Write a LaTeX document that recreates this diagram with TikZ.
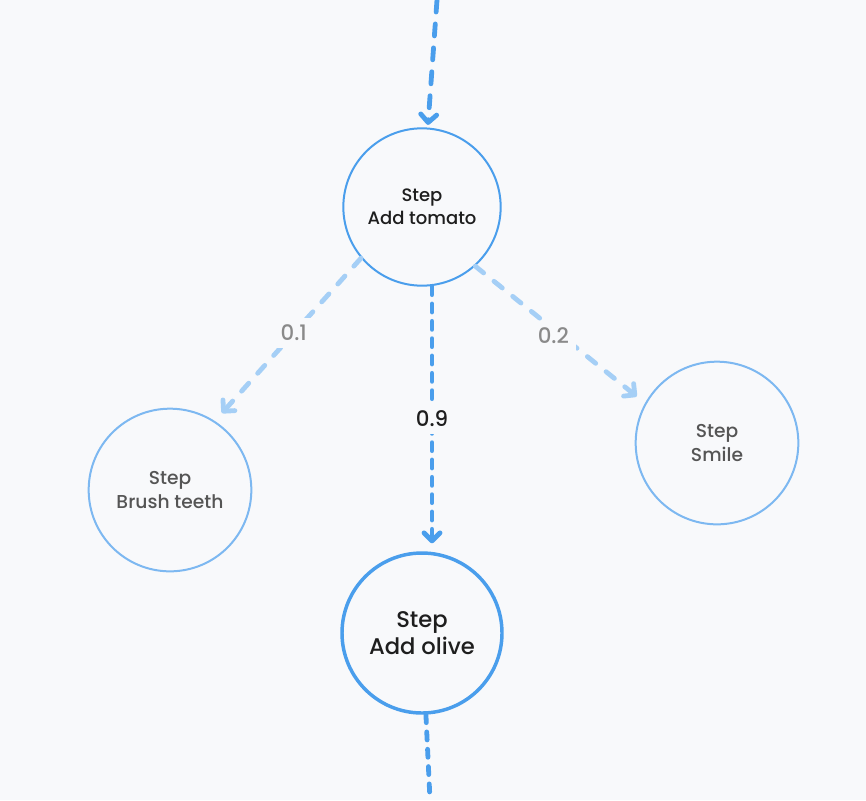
\documentclass[tikz,border=0pt]{standalone}
\usepackage{fontspec}
\setmainfont{Poppins}[UprightFont=* Medium]
\usepackage{tikz}
\usetikzlibrary{arrows.meta,positioning}
\usepackage{xcolor}

\definecolor{bgcol}{HTML}{F8F9FB}
\definecolor{stepblue}{HTML}{4A9EEC}
\definecolor{paleblue}{HTML}{A5CFF6}
\definecolor{ringblue}{HTML}{7DB8F1}
\definecolor{inkdark}{HTML}{1E1E1E}
\definecolor{inkgray}{HTML}{555555}
\definecolor{labgray}{HTML}{8A8A8A}

\begin{document}
\begin{tikzpicture}[x=0.75pt, y=-0.75pt,
	stepnode/.style={draw=stepblue, circle, line width=1.5pt, minimum size=118pt,
		align=center, text=inkdark, font=\fontsize{13.5}{17}\selectfont},
	sidenode/.style={stepnode, draw=ringblue, text=inkgray, minimum size=122pt,
		font=\fontsize{14}{18}\selectfont},
	mainnode/.style={stepnode, line width=2.6pt, minimum size=120pt,
		font=\fontsize{17}{20.5}\selectfont},
	tip/.style={-{Straight Barb[length=6pt, width=12pt, line cap=round, line join=round]}},
	flow/.style={tip, draw=stepblue, line width=3.6pt, line cap=round,
		dash pattern=on 9pt off 9pt},
	weak/.style={tip, draw=paleblue, line width=3.6pt, line cap=round,
		dash pattern=on 8pt off 10pt, shorten >=8pt},
	prob/.style={fill=bgcol, inner sep=5pt, text=labgray,
		font=\fontsize{16}{18}\selectfont}
]
	% background
	\fill[bgcol] (0,0) rectangle (866,800);
	\useasboundingbox (0,0) rectangle (866,800);

	% Steps
	\node[stepnode] (tomato) at (422, 207) {Step\\ Add tomato};
	\node[sidenode] (brush)  at (170, 490) {Step\\ Brush teeth};
	\node[sidenode] (smile)  at (717, 443) {Step\\ Smile};
	\node[mainnode] (olive)  at (422, 633) {Step\\ Add olive};

	% Loose ends
	\coordinate (top) at (437, 0);
	\coordinate (bot) at (430, 800);

	\draw[flow, shorten >=2pt] (top) -- (tomato);
	\draw[flow, dash pattern=on 6pt off 7pt, shorten >=6pt]
		([xshift=7.5pt]tomato.south) -- ([xshift=7.5pt]olive.north)
		node[midway, prob, text=inkdark] {0.9};
	\draw[flow, -, dash pattern=on 6pt off 7pt] (olive) -- (bot);

	% Less likely steps
	\draw[weak] (tomato.-140) -- (brush.57) node[pos=0.46, prob] {0.1};
	\draw[weak] (tomato.-48) -- (smile.151) node[pos=0.46, prob, yshift=-5pt] {0.2};
\end{tikzpicture}
\end{document}
